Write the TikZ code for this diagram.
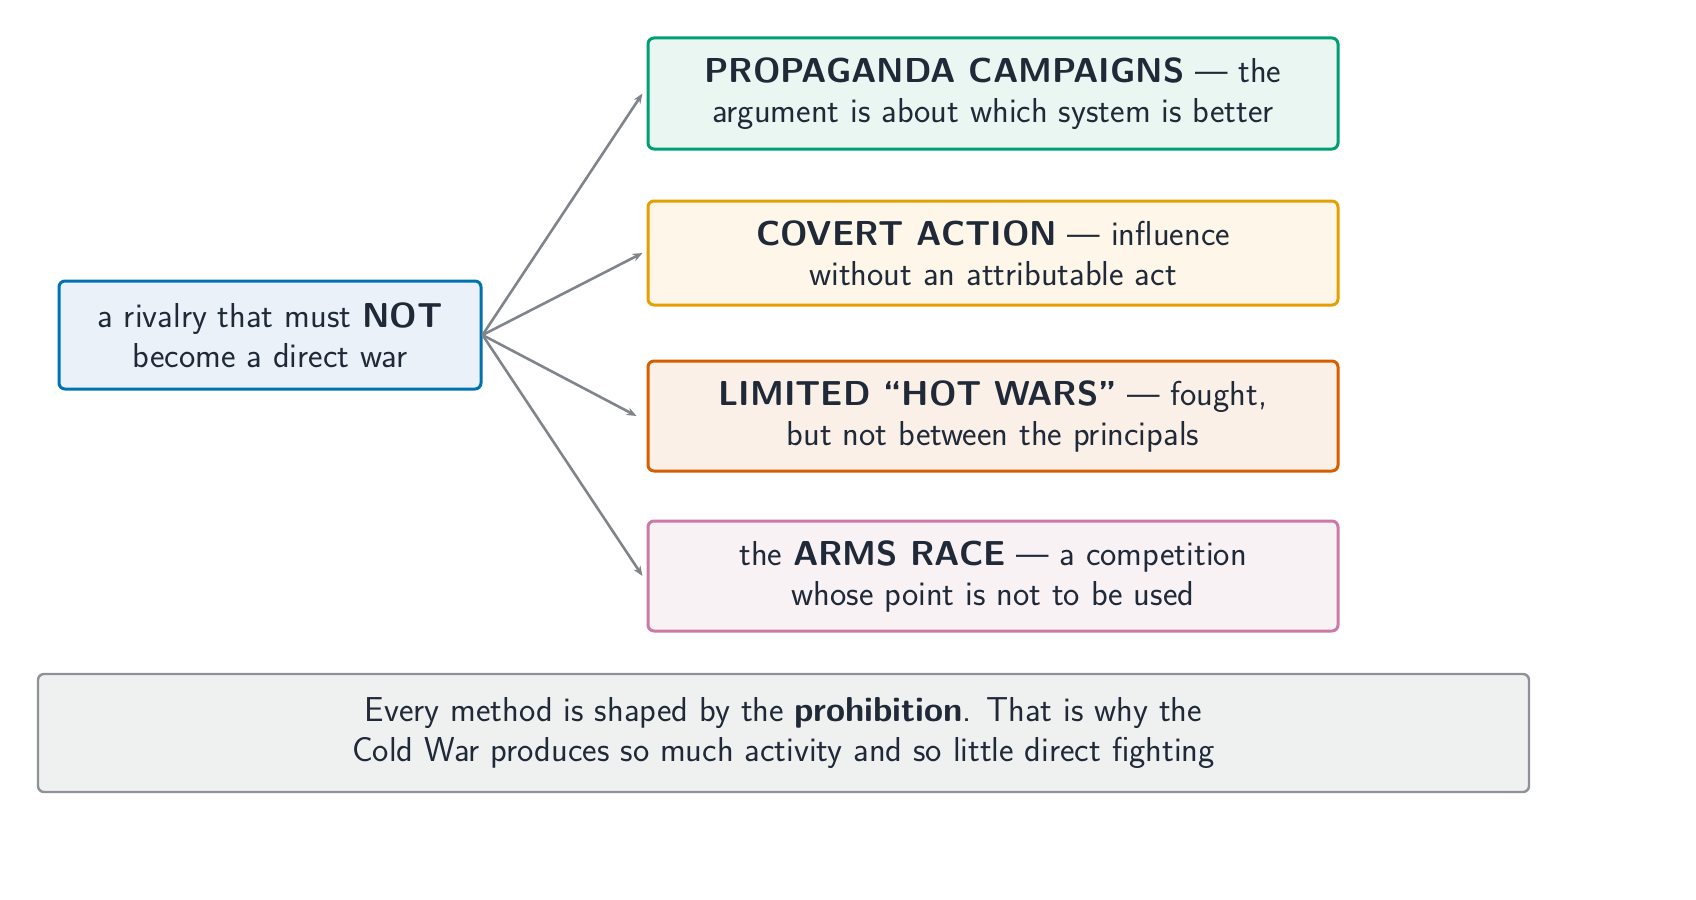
\documentclass[tikz,border=0pt]{standalone}
\usetikzlibrary{arrows.meta}
\definecolor{txt}{HTML}{1F2937}
\definecolor{cb}{HTML}{0072B2}\definecolor{fb}{HTML}{EAF1F8}
\definecolor{cg}{HTML}{009E73}\definecolor{fg}{HTML}{EAF6F1}
\definecolor{co}{HTML}{E69F00}\definecolor{fo}{HTML}{FDF6E9}
\definecolor{cv}{HTML}{D55E00}\definecolor{fv}{HTML}{FAF0E8}
\definecolor{cp}{HTML}{CC79A7}\definecolor{fp}{HTML}{F8F2F5}
\definecolor{cgr}{HTML}{8E9297}\definecolor{fgr}{HTML}{EFF1F1}
\definecolor{car}{HTML}{80858C}
\begin{document}
\begin{tikzpicture}[x=0.5pt,y=-0.5pt,
 box/.style={draw, rounded corners=3pt, line width=1.5pt, text=txt, align=center,
   font=\sffamily\fontsize{17.3}{20}\selectfont, inner sep=0pt},
 arr/.style={draw=car, line width=1.3pt, -{Stealth[length=5pt,width=4pt]}}]
\useasboundingbox (0,0) rectangle (1696,899);
\node[box, draw=cb, fill=fb, minimum width=211pt, minimum height=54pt] (L) at (270,335) {a rivalry that must \textbf{NOT}\\become a direct war};
\node[box, draw=cg, fill=fg, minimum width=345pt, minimum height=55.5pt] (A) at (993,93.5) {\textbf{PROPAGANDA CAMPAIGNS} --- the\\argument is about which system is better};
\node[box, draw=co, fill=fo, minimum width=345pt, minimum height=52pt] (B) at (993,253) {\textbf{COVERT ACTION} --- influence\\without an attributable act};
\node[box, draw=cv, fill=fv, minimum width=345pt, minimum height=55pt] (C) at (993,416) {\textbf{LIMITED ``HOT WARS''} --- fought,\\but not between the principals};
\node[box, draw=cp, fill=fp, minimum width=345pt, minimum height=55pt] (D) at (993,576) {the \textbf{ARMS RACE} --- a competition\\whose point is not to be used};
\node[box, draw=cgr, fill=fgr, line width=1.2pt, minimum width=745.5pt, minimum height=59pt] (E) at (783.5,733) {Every method is shaped by the \textbf{prohibition}. That is why the\\Cold War produces so much activity and so little direct fighting};
\draw[arr] (L.east) -- ([xshift=-2pt]A.west);
\draw[arr] (L.east) -- ([xshift=-2pt]B.west);
\draw[arr] (L.east) -- ([xshift=-5pt]C.west);
\draw[arr] (L.east) -- ([xshift=-2pt]D.west);
\end{tikzpicture}
\end{document}
